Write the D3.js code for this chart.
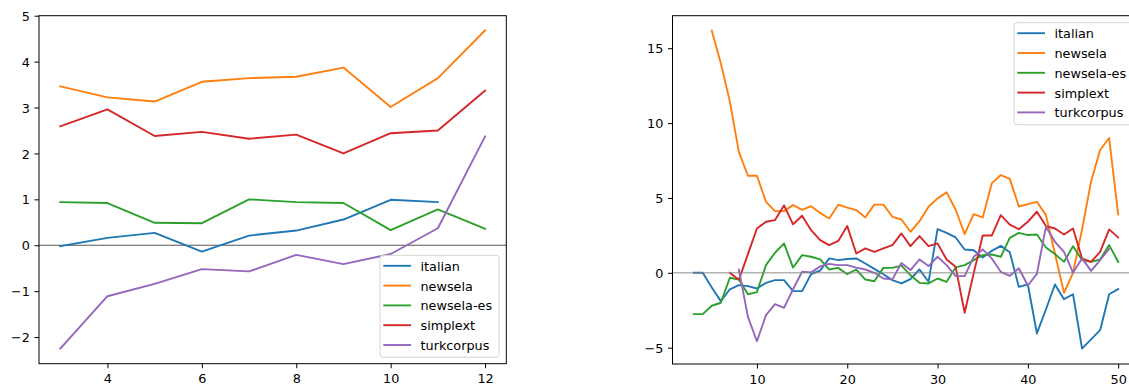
<!DOCTYPE html>
<html><head><meta charset="utf-8">
<script src="https://cdn.jsdelivr.net/npm/d3@7"></script>
<style>
body{margin:0;background:#fff;}
svg{display:block;}
text{font-family:"DejaVu Sans",sans-serif;}
</style>
</head><body>
<svg id="c" width="1129" height="387"></svg>
<script>
// ---------- data ----------
const seriesNames = ["italian", "newsela", "newsela-es", "simplext", "turkcorpus"];
const seriesColors = ["#1f77b4", "#ff7f0e", "#2ca02c", "#d62728", "#9467bd"];

// left panel (x = 3 .. 12)
const leftStart = [3, 3, 3, 3, 3];
const leftItalian    = [-0.02, 0.16, 0.27, -0.14, 0.21, 0.32, 0.56, 0.99, 0.94];
const leftNewsela    = [3.46, 3.22, 3.13, 3.56, 3.64, 3.67, 3.87, 3.01, 3.64, 4.68];
const leftNewselaEs  = [0.94, 0.92, 0.49, 0.48, 1.00, 0.94, 0.92, 0.33, 0.78, 0.36];
const leftSimplext   = [2.59, 2.96, 2.38, 2.47, 2.32, 2.41, 2.00, 2.44, 2.50, 3.37];
const leftTurkcorpus = [-2.25, -1.11, -0.84, -0.52, -0.57, -0.21, -0.41, -0.19, 0.37, 2.37];
const leftXTicks = [4, 6, 8, 10, 12];
const leftYTicks = [-2, -1, 0, 1, 2, 3, 4, 5];

// right panel (first x of each series, then values for consecutive x)
const rightStart = [3, 5, 3, 7, 8];
const rightItalian = [0, 0, -0.98, -1.89, -1.1, -0.82, -0.89, -1.05, -0.67, -0.49, -0.49, -1.22, -1.22,
  -0.08, 0.15, 0.96, 0.85, 0.92, 0.96, 0.62, 0.26, -0.1, -0.49, -0.71, -0.42, 0.22, -0.6,
  2.92, 2.67, 2.36, 1.56, 1.51, 1.02, 1.47, 1.80, 1.37, -0.94, -0.78, -4.05, -2.45, -0.78,
  -1.76, -1.43, -5.06, -4.45, -3.83, -1.43, -1.09];
const rightNewsela = [16.17, 13.99, 11.43, 8.08, 6.48, 6.48, 4.74, 4.12, 4.12, 4.52, 4.2, 4.45, 4.0,
  3.63, 4.55, 4.35, 4.19, 3.70, 4.55, 4.55, 3.74, 3.56, 2.74, 3.45, 4.41, 4.97, 5.37, 4.23,
  2.58, 3.92, 3.70, 5.97, 6.53, 6.27, 4.43, 4.59, 4.74, 3.85, 1.29, -1.34, 0.0, 2.9, 6.1,
  8.2, 9.0, 3.9];
const rightNewselaEs = [-2.76, -2.76, -2.2, -2.0, -0.33, -0.45, -1.43, -1.29, 0.51, 1.34, 1.96, 0.35,
  1.18, 1.07, 0.9, 0.22, 0.33, -0.09, 0.22, -0.45, -0.56, 0.33, 0.33, 0.48, -0.16, -0.67,
  -0.71, -0.38, -0.6, 0.36, 0.51, 0.85, 1.18, 1.22, 1.07, 2.33, 2.67, 2.52, 2.56, 1.69, 1.25,
  0.73, 1.78, 0.85, 0.73, 0.89, 1.85, 0.73];
const rightSimplext = [0.0, -0.47, 1.25, 2.96, 3.41, 3.52, 4.5, 3.24, 3.81, 2.85, 2.18, 1.85, 2.13,
  3.12, 1.29, 1.63, 1.40, 1.63, 1.85, 2.63, 1.78, 2.45, 1.78, 1.96, 0.89, 0.40, -2.67, -0.04,
  2.49, 2.49, 3.85, 3.22, 2.91, 3.41, 4.08, 3.12, 2.96, 2.56, 2.96, 0.96, 0.73, 1.4, 2.9, 2.36];
const rightTurkcorpus = [0.22, -2.94, -4.57, -2.83, -2.09, -2.34, -1.1, 0.07, 0.03, 0.43, 0.6, 0.51,
  0.51, 0.35, 0.22, 0.0, -0.38, -0.44, 0.65, 0.18, 0.89, 0.45, 1.07, 0.51, -0.22, -0.22, 1.07,
  1.56, 0.96, 0.07, -0.2, 0.3, -0.85, -0.07, 3.07, 2.07, 1.40, 0.02, 0.96, 0.13, 0.85, 1.6];
const rightXTicks = [10, 20, 30, 40, 50];
const rightYTicks = [-5, 0, 5, 10, 15];

// ---------- drawing ----------
const svg = d3.select("#c");
const FONT = 12.8;
const fmt = d3.format("d");

function toPoints(start, vals) { return vals.map((v, i) => [start + i, v]); }

function panel(cfg) {
  const {left, right, top, bottom, xDomain, yDomain, xTicks, yTicks, data, starts,
         zeroColor, zeroWidth, zeroOpacity, zeroOnTop, legendPos, id} = cfg;
  const x = d3.scaleLinear().domain(xDomain).range([left, right]);
  const y = d3.scaleLinear().domain(yDomain).range([bottom, top]);
  const g = svg.append("g");

  g.append("clipPath").attr("id", id).append("rect")
    .attr("x", left).attr("y", top).attr("width", right - left).attr("height", bottom - top);

  const zero = () => g.append("line")
    .attr("x1", left).attr("x2", right).attr("y1", y(0)).attr("y2", y(0))
    .attr("stroke", zeroColor).attr("stroke-width", zeroWidth).attr("stroke-opacity", zeroOpacity);

  if (!zeroOnTop) zero();

  const line = d3.line().x(d => x(d[0])).y(d => y(d[1]));
  const plot = g.append("g").attr("clip-path", `url(#${id})`);
  data.forEach((vals, i) => {
    plot.append("path").datum(toPoints(starts[i], vals))
      .attr("d", line).attr("fill", "none")
      .attr("stroke", seriesColors[i]).attr("stroke-width", 1.9)
      .attr("stroke-linejoin", "round").attr("stroke-linecap", "square");
  });

  if (zeroOnTop) zero();

  // axes
  const xa = g.append("g").attr("transform", `translate(0,${bottom})`)
    .call(d3.axisBottom(x).tickValues(xTicks).tickFormat(fmt).tickSize(4.5).tickPadding(6.2));
  const ya = g.append("g").attr("transform", `translate(${left},0)`)
    .call(d3.axisLeft(y).tickValues(yTicks).tickFormat(fmt).tickSize(4.5).tickPadding(4.6));
  [xa, ya].forEach(a => {
    a.select(".domain").remove();
    a.attr("font-family", null).attr("font-size", null);
    a.selectAll("line").attr("stroke", "#000").attr("stroke-width", 1);
    a.selectAll("text").attr("fill", "#000").style("font-size", FONT + "px")
      .style("font-family", "DejaVu Sans");
  });
  ya.selectAll("text").attr("dy", "0.36em");

  // frame
  g.append("rect").attr("x", left).attr("y", top)
    .attr("width", right - left).attr("height", bottom - top)
    .attr("fill", "none").attr("stroke", "#000").attr("stroke-width", 1);

  // legend
  const lg = g.append("g").attr("transform", `translate(${legendPos[0]},${legendPos[1]})`);
  lg.append("rect").attr("x", 0).attr("y", 0).attr("width", 119).attr("height", 102)
    .attr("rx", 3).attr("ry", 3)
    .attr("fill", "#fff").attr("fill-opacity", 0.8)
    .attr("stroke", "#d5d5d5").attr("stroke-width", 1);
  seriesNames.forEach((name, i) => {
    const ry = 10.5 + i * 19.8;
    lg.append("line").attr("x1", 3.3).attr("x2", 31).attr("y1", ry).attr("y2", ry)
      .attr("stroke", seriesColors[i]).attr("stroke-width", 1.9);
    lg.append("text").attr("x", 40.5).attr("y", ry + 5)
      .style("font-size", FONT + "px").attr("fill", "#000").text(name);
  });
}

panel({
  id: "clipL",
  left: 39, right: 506.3, top: 15.7, bottom: 363.7,
  xDomain: [2.55, 12.45], yDomain: [-2.58, 5.0],
  xTicks: leftXTicks, yTicks: leftYTicks,
  data: [leftItalian, leftNewsela, leftNewselaEs, leftSimplext, leftTurkcorpus],
  starts: leftStart,
  zeroColor: "#444", zeroWidth: 0.9, zeroOpacity: 1, zeroOnTop: false,
  legendPos: [380, 255.3]
});

panel({
  id: "clipR",
  left: 672.5, right: 1139.4, top: 15.7, bottom: 364,
  xDomain: [0.65, 52.35], yDomain: [-6.09, 17.17],
  xTicks: rightXTicks, yTicks: rightYTicks,
  data: [rightItalian, rightNewsela, rightNewselaEs, rightSimplext, rightTurkcorpus],
  starts: rightStart,
  zeroColor: "#808080", zeroWidth: 1.6, zeroOpacity: 0.6, zeroOnTop: true,
  legendPos: [1014, 22.7]
});
</script>
</body></html>
